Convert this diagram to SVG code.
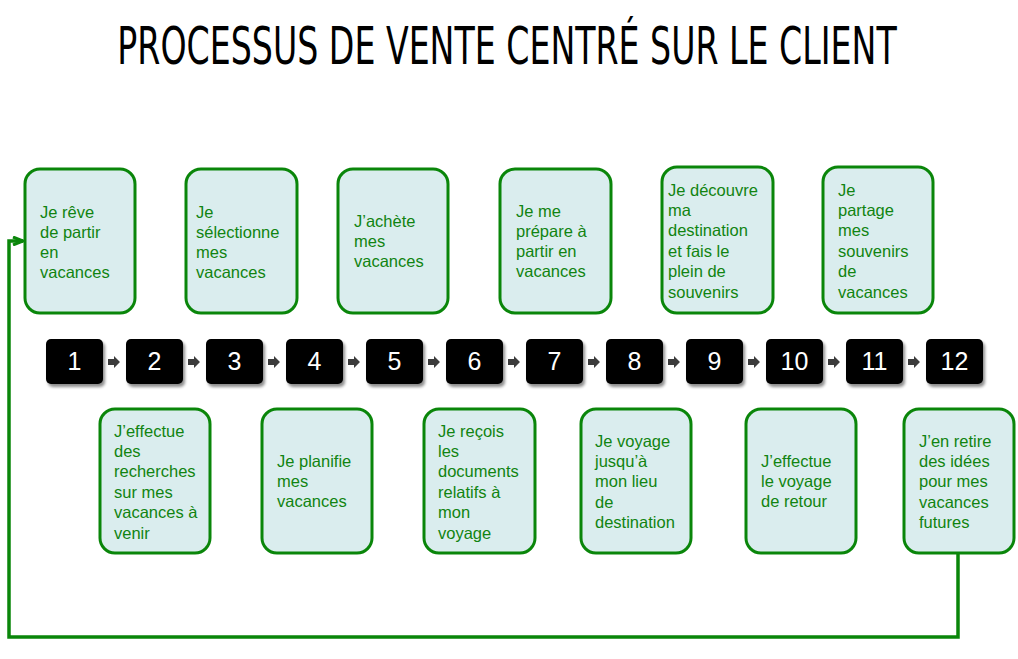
<svg xmlns="http://www.w3.org/2000/svg" width="1018" height="659" viewBox="0 0 1018 659">
<style>
.step rect{fill:#daedee;stroke:#0a860a;stroke-width:3}
.step text{font-family:"Liberation Sans",Arial,sans-serif;font-size:16.5px;fill:#118411}
.num rect{fill:#000}
.num text{font-family:"Liberation Sans",Arial,sans-serif;font-size:25px;fill:#fff;text-anchor:middle}
.arr{fill:#3c3c3c}
.loop{fill:none;stroke:#0a860a;stroke-width:3.5}
</style>
<defs>
<filter id="sh" x="-20%" y="-20%" width="150%" height="150%">
<feGaussianBlur in="SourceAlpha" stdDeviation="1.5"/>
<feOffset dx="2" dy="3" result="b"/>
<feComponentTransfer><feFuncA type="linear" slope="0.45"/></feComponentTransfer>
<feMerge><feMergeNode/><feMergeNode in="SourceGraphic"/></feMerge>
</filter>
<marker id="ah" viewBox="0 0 12 10" markerWidth="12" markerHeight="10" refX="11" refY="5" orient="auto" markerUnits="userSpaceOnUse">
<path d="M1,1 L11,5 L1,9" fill="none" stroke="#0a860a" stroke-width="3"/>
</marker>
<path id="ba" d="M0,-3 L6,-3 L6,-6 L12,0 L6,6 L6,3 L0,3 Z"/>
</defs>
<rect width="1018" height="659" fill="#fff"/>
<text transform="translate(507,64) scale(0.71,1)" x="0" y="0" font-family="'Liberation Sans Narrow','DejaVu Sans Condensed',sans-serif" font-size="52" text-anchor="middle" fill="#000">PROCESSUS DE VENTE CENTRÉ SUR LE CLIENT</text>

<g id="connectors">
<path class="loop" d="M958,553 V637 H9 V241 H23" marker-end="url(#ah)"/>
<g class="arr">
<use href="#ba" x="108" y="362"/><use href="#ba" x="188" y="362"/><use href="#ba" x="268" y="362"/><use href="#ba" x="348" y="362"/>
<use href="#ba" x="428" y="362"/><use href="#ba" x="508" y="362"/><use href="#ba" x="588" y="362"/><use href="#ba" x="668" y="362"/>
<use href="#ba" x="748" y="362"/><use href="#ba" x="828" y="362"/><use href="#ba" x="908" y="362"/>
</g>
</g>

<g id="n1" class="num"><rect x="46" y="339" width="57" height="45" rx="5" filter="url(#sh)"/><text x="74.5" y="370">1</text></g>
<g id="n2" class="num"><rect x="126" y="339" width="57" height="45" rx="5" filter="url(#sh)"/><text x="154.5" y="370">2</text></g>
<g id="n3" class="num"><rect x="206" y="339" width="57" height="45" rx="5" filter="url(#sh)"/><text x="234.5" y="370">3</text></g>
<g id="n4" class="num"><rect x="286" y="339" width="57" height="45" rx="5" filter="url(#sh)"/><text x="314.5" y="370">4</text></g>
<g id="n5" class="num"><rect x="366" y="339" width="57" height="45" rx="5" filter="url(#sh)"/><text x="394.5" y="370">5</text></g>
<g id="n6" class="num"><rect x="446" y="339" width="57" height="45" rx="5" filter="url(#sh)"/><text x="474.5" y="370">6</text></g>
<g id="n7" class="num"><rect x="526" y="339" width="57" height="45" rx="5" filter="url(#sh)"/><text x="554.5" y="370">7</text></g>
<g id="n8" class="num"><rect x="606" y="339" width="57" height="45" rx="5" filter="url(#sh)"/><text x="634.5" y="370">8</text></g>
<g id="n9" class="num"><rect x="686" y="339" width="57" height="45" rx="5" filter="url(#sh)"/><text x="714.5" y="370">9</text></g>
<g id="n10" class="num"><rect x="766" y="339" width="57" height="45" rx="5" filter="url(#sh)"/><text x="794.5" y="370">10</text></g>
<g id="n11" class="num"><rect x="846" y="339" width="57" height="45" rx="5" filter="url(#sh)"/><text x="874.5" y="370">11</text></g>
<g id="n12" class="num"><rect x="926" y="339" width="57" height="45" rx="5" filter="url(#sh)"/><text x="954.5" y="370">12</text></g>

<g id="s1" class="step"><rect x="25" y="169" width="110" height="144" rx="15"/>
<text x="40" y="218">Je rêve</text><text x="40" y="238">de partir</text><text x="40" y="258">en</text><text x="40" y="278">vacances</text></g>
<g id="s2" class="step"><rect x="186" y="169" width="111" height="144" rx="15"/>
<text x="196" y="218">Je</text><text x="196" y="238">sélectionne</text><text x="196" y="258">mes</text><text x="196" y="278">vacances</text></g>
<g id="s3" class="step"><rect x="338" y="169" width="110" height="144" rx="15"/>
<text x="354" y="227">J’achète</text><text x="354" y="247">mes</text><text x="354" y="267">vacances</text></g>
<g id="s4" class="step"><rect x="500" y="169" width="111" height="144" rx="15"/>
<text x="516" y="217">Je me</text><text x="516" y="237">prépare à</text><text x="516" y="257">partir en</text><text x="516" y="277">vacances</text></g>
<g id="s5" class="step"><rect x="662" y="167" width="111" height="146" rx="15"/>
<text x="668" y="196">Je découvre</text><text x="668" y="216">ma</text><text x="668" y="236">destination</text><text x="668" y="257">et fais le</text><text x="668" y="277">plein de</text><text x="668" y="298">souvenirs</text></g>
<g id="s6" class="step"><rect x="823" y="167" width="110" height="146" rx="15"/>
<text x="838" y="196">Je</text><text x="838" y="216">partage</text><text x="838" y="236">mes</text><text x="838" y="257">souvenirs</text><text x="838" y="277">de</text><text x="838" y="298">vacances</text></g>

<g id="s7" class="step"><rect x="100" y="409" width="110" height="144" rx="15"/>
<text x="114" y="437">J’effectue</text><text x="114" y="457">des</text><text x="114" y="477">recherches</text><text x="114" y="498">sur mes</text><text x="114" y="518">vacances à</text><text x="114" y="539">venir</text></g>
<g id="s8" class="step"><rect x="262" y="409" width="110" height="144" rx="15"/>
<text x="277" y="467">Je planifie</text><text x="277" y="487">mes</text><text x="277" y="507">vacances</text></g>
<g id="s9" class="step"><rect x="424" y="409" width="111" height="144" rx="15"/>
<text x="438" y="437">Je reçois</text><text x="438" y="457">les</text><text x="438" y="477">documents</text><text x="438" y="498">relatifs à</text><text x="438" y="518">mon</text><text x="438" y="539">voyage</text></g>
<g id="s10" class="step"><rect x="581" y="409" width="110" height="144" rx="15"/>
<text x="595" y="447">Je voyage</text><text x="595" y="467">jusqu’à</text><text x="595" y="487">mon lieu</text><text x="595" y="508">de</text><text x="595" y="528">destination</text></g>
<g id="s11" class="step"><rect x="746" y="409" width="110" height="144" rx="15"/>
<text x="761" y="467">J’effectue</text><text x="761" y="487">le voyage</text><text x="761" y="507">de retour</text></g>
<g id="s12" class="step"><rect x="904" y="409" width="110" height="144" rx="15"/>
<text x="919" y="447">J’en retire</text><text x="919" y="467">des idées</text><text x="919" y="487">pour mes</text><text x="919" y="508">vacances</text><text x="919" y="528">futures</text></g>
</svg>
